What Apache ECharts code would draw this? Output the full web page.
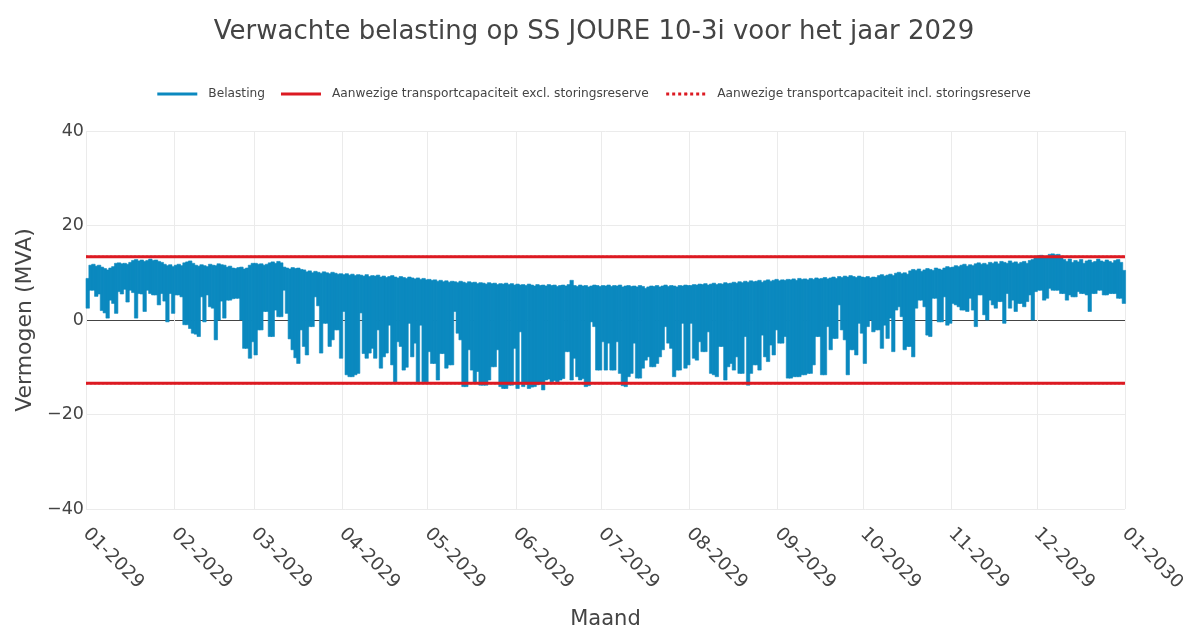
<!DOCTYPE html>
<html><head><meta charset="utf-8">
<script src="https://cdn.jsdelivr.net/npm/echarts@6/dist/echarts.min.js"></script>
<style>html,body{margin:0;padding:0;background:#fff;overflow:hidden}#c{width:1188px;height:630px}</style>
</head><body><div id="c"></div>
<script>
const YEAR = 2029;
const titleText = 'Verwachte belasting op SS JOURE 10-3i voor het jaar 2029';
const seriesNames = ['Belasting', 'Aanwezige transportcapaciteit excl. storingsreserve', 'Aanwezige transportcapaciteit incl. storingsreserve'];
const yTicks = [-40, -20, 0, 20, 40];

// Daily maximum load (MVA), Jan..Dec
const dailyMax = [
  // Jan
  8.8, 11.6, 11.8, 11.4, 11.6, 11.2, 10.9, 10.6, 11.0, 11.3, 12.0, 12.1, 11.9, 12.0, 11.8, 12.2, 12.6, 12.8, 12.5, 12.7, 12.4, 12.6, 12.9, 12.6, 12.7, 12.4, 12.2, 11.8, 11.5, 11.7, 11.3,
  // Feb
  11.6, 11.8, 11.5, 12.1, 12.3, 12.5, 12.0, 11.6, 11.4, 11.7, 11.5, 11.3, 11.8, 11.6, 11.5, 11.9, 11.7, 11.6, 11.2, 11.4, 11.0, 10.9, 11.1, 11.2, 10.8, 11.0, 11.6, 12.0,
  // Mar
  12.0, 11.8, 11.9, 11.6, 11.8, 12.1, 12.3, 12.0, 12.4, 12.1, 11.2, 11.0, 10.8, 11.1, 10.9, 11.0, 10.7, 10.6, 10.2, 10.4, 10.0, 10.3, 10.1, 9.9, 10.2, 10.0, 9.8, 10.1, 9.9, 9.7, 9.8,
  // Apr
  9.6, 9.8, 9.5, 9.7, 9.4, 9.6, 9.5, 9.3, 9.6, 9.2, 9.4, 9.3, 9.5, 9.1, 9.3, 9.0, 9.2, 9.4, 9.1, 8.9, 9.2, 9.0, 8.8, 9.1, 8.9, 8.7, 8.9, 8.6, 8.8, 8.5,
  // May
  8.6, 8.4, 8.5, 8.2, 8.4, 8.1, 8.3, 8.0, 8.2, 8.1, 7.9, 8.2, 8.0, 7.8, 8.1, 7.9, 8.0, 7.7, 7.9, 7.8, 7.6, 7.9, 7.7, 7.8, 7.5, 7.7, 7.6, 7.8, 7.5, 7.7, 7.4,
  // Jun
  7.6, 7.4, 7.5, 7.3, 7.6, 7.4, 7.2, 7.5, 7.3, 7.4, 7.2, 7.5, 7.3, 7.4, 7.1, 7.3, 7.4, 7.2, 7.5, 8.4, 7.3, 7.1, 7.4, 7.2, 7.3, 7.0, 7.2, 7.4, 7.3, 7.1,
  // Jul
  7.3, 7.2, 7.4, 7.1, 7.3, 7.2, 7.4, 7.0, 7.2, 7.3, 7.1, 7.2, 7.0, 7.3, 7.1, 6.7, 7.0, 7.2, 7.1, 7.3, 7.0, 7.2, 7.4, 7.1, 7.3, 7.2, 7.0, 7.3, 7.2, 7.4, 7.3,
  // Aug
  7.3, 7.5, 7.4, 7.6, 7.5, 7.7, 7.4, 7.6, 7.8, 7.5, 7.7, 7.6, 7.9, 7.7, 7.8, 8.0, 7.8, 8.1, 7.9, 8.2, 8.0, 8.3, 8.1, 8.2, 8.4, 8.0, 8.3, 8.5, 8.2, 8.4, 8.6,
  // Sep
  8.3, 8.5, 8.4, 8.6, 8.5, 8.7, 8.4, 8.8, 8.6, 8.7, 8.5, 8.8, 8.6, 8.9, 8.7, 8.8, 9.0, 8.7, 8.9, 9.1, 8.8, 9.2, 9.0, 9.3, 9.1, 9.4, 9.2, 9.0, 9.3, 9.1,
  // Oct
  9.0, 9.2, 8.9, 9.1, 9.0, 9.4, 9.6, 9.3, 9.5, 9.7, 9.4, 9.9, 10.1, 9.8, 10.0, 9.7, 10.4, 10.7, 10.5, 10.8, 10.3, 10.6, 10.9, 10.7, 10.5, 11.0, 10.8, 10.6, 11.0, 11.3, 11.1,
  // Nov
  11.2, 11.5, 11.3, 11.6, 11.8, 11.4, 11.7, 11.5, 11.9, 12.1, 11.8, 12.0, 11.7, 12.2, 12.0, 12.3, 11.9, 12.4, 12.2, 12.0, 12.5, 12.1, 12.3, 11.9, 12.2, 12.4, 12.0, 12.6, 12.8, 13.4,
  // Dec
  13.6, 13.7, 13.5, 13.4, 13.9, 14.0, 13.8, 13.9, 13.5, 12.8, 12.4, 12.9, 12.2, 12.6, 12.3, 12.8, 12.0, 12.5, 12.7, 12.2, 12.4, 12.9, 12.5, 12.3, 12.7, 12.4, 12.1, 12.6, 12.8, 12.2, 10.5
];

// Daily minimum load (MVA), Jan..Dec
const dailyMin = [
  // Jan
  2.5, 6.3, 6.3, 5.0, 5.5, 2.0, 1.5, 0.4, 4.2, 3.5, 1.4, 6.0, 5.5, 6.5, 3.8, 6.3, 5.8, 0.4, 5.6, 5.5, 1.8, 6.3, 5.6, 5.3, 5.3, 3.2, 5.6, 4.0, -0.4, 5.6, 1.4,
  // Feb
  5.3, 5.3, 4.9, -1.0, -1.0, -1.8, -2.8, -3.0, -3.5, 4.9, -0.4, 5.3, 2.8, 2.5, -4.2, 0.0, 4.0, 0.4, 4.2, 4.2, 4.5, 4.6, 4.6, 0.0, -6.0, -6.0, -8.1, -4.6,
  // Mar
  -7.4, -2.1, -2.1, 1.8, 1.8, -3.5, -3.5, 2.1, 0.7, 0.7, 6.3, 1.4, -4.0, -6.3, -8.0, -9.2, -2.1, -5.6, -7.4, -1.4, -1.4, 4.9, 3.0, -7.0, -0.7, -0.7, -5.6, -4.2, -2.1, -2.1, -8.1,
  // Apr
  1.8, -11.6, -12.0, -12.0, -11.6, -11.3, 1.5, -7.1, -8.1, -7.0, -6.0, -8.1, -2.1, -10.2, -7.8, -7.0, -1.1, -9.5, -13.1, -4.6, -5.6, -10.6, -10.0, -0.7, -7.8, -4.9, -13.1, -1.1, -13.1, -13.1,
  // May
  -6.7, -9.2, -9.2, -12.7, -7.1, -7.1, -10.2, -9.5, -9.5, 1.8, -2.8, -4.2, -14.1, -14.1, -6.3, -10.6, -13.4, -10.9, -13.8, -13.8, -13.8, -12.7, -9.9, -9.9, -6.3, -14.1, -14.5, -14.5, -13.8, -13.8, -6.0,
  // Jun
  -14.5, -2.5, -14.1, -13.6, -14.5, -14.2, -14.1, -13.7, -13.4, -14.8, -12.7, -12.5, -13.1, -12.8, -13.1, -12.7, -12.4, -6.7, -6.7, -12.7, -8.1, -12.0, -12.7, -12.4, -14.1, -13.9, -0.4, -1.4, -10.6, -10.6,
  // Jul
  -4.6, -10.6, -4.9, -10.6, -10.6, -4.6, -11.3, -13.9, -14.1, -12.0, -11.3, -4.9, -12.3, -12.3, -10.2, -8.5, -7.8, -9.9, -9.9, -9.2, -7.8, -6.3, -1.4, -4.9, -6.0, -12.0, -10.6, -10.6, -0.7, -10.2, -9.5,
  // Aug
  -0.7, -8.1, -8.5, -4.6, -6.7, -6.7, -2.5, -11.3, -11.6, -12.0, -5.6, -5.6, -12.7, -9.9, -9.2, -10.6, -7.8, -11.3, -11.3, -3.5, -13.8, -11.3, -9.5, -9.5, -10.6, -3.2, -7.8, -8.8, -5.3, -7.4, -2.1,
  // Sep
  -4.9, -4.9, -3.5, -12.3, -12.3, -12.0, -12.0, -12.0, -11.6, -11.6, -11.3, -11.3, -9.5, -3.5, -3.5, -11.6, -11.6, -1.4, -6.3, -3.9, -3.9, 3.2, -2.1, -4.2, -11.6, -6.3, -6.3, -7.4, -0.7, -2.8,
  // Oct
  -9.2, -1.4, 0.0, -2.5, -2.1, -2.1, -6.0, -1.1, -3.9, 0.4, -6.7, 2.1, 2.8, 0.7, -6.3, -5.6, -5.6, -7.8, 2.5, 4.2, 4.2, 2.8, -3.2, -3.5, 4.6, 4.6, -0.4, -0.4, 4.9, -1.1, -0.7,
  // Nov
  3.5, 3.2, 2.8, 2.1, 2.1, 1.8, 4.6, 2.1, -1.4, 5.3, 5.3, 1.1, 0.0, 4.2, 3.2, 2.5, 3.9, 3.9, -0.7, 5.6, 2.5, 4.2, 1.8, 3.5, 3.5, 2.8, 3.9, 5.3, 0.0, 6.0,
  // Dec
  6.3, 6.3, 4.2, 4.6, 6.7, 6.3, 6.3, 6.3, 5.6, 5.6, 4.2, 5.3, 4.9, 4.9, 6.0, 5.6, 5.6, 5.3, 1.8, 5.6, 5.6, 6.3, 6.3, 5.3, 5.3, 5.6, 5.6, 5.6, 4.6, 4.6, 3.5
];

// Transport capacity (MVA), symmetric
const capacityExcl = 13.4;
const capacityIncl = 13.4;

const BLUE = '#0b89bf';
const RED = '#dc1a22';
const TXT = '#444';
const FONT = 'DejaVu Sans';
const DAY = 86400000;
const tStart = new Date(YEAR, 0, 1).getTime();
const tEnd = new Date(YEAR + 1, 0, 1).getTime();

const rangeData = dailyMax.map((mx, i) => [new Date(YEAR, 0, 1 + i).getTime(), dailyMin[i], mx]);

function capLine(v) { return [[tStart, v], [tEnd, v]]; }

const chart = echarts.init(document.getElementById('c'), null, { renderer: 'canvas', width: 1188, height: 630 });
chart.setOption({
  animation: false,
  backgroundColor: '#fff',
  textStyle: { fontFamily: FONT },
  title: {
    text: titleText, left: 'center', top: 14,
    textStyle: { fontFamily: FONT, fontSize: 26, fontWeight: 'normal', color: TXT }
  },
  legend: {
    top: 83, left: 'center', itemWidth: 40, itemHeight: 3, itemGap: 16,
    textStyle: { fontFamily: FONT, fontSize: 12.2, color: TXT, padding: [0, 0, 0, 6] },
    data: [
      { name: seriesNames[0], icon: 'rect', itemStyle: { color: BLUE } },
      { name: seriesNames[1], icon: 'rect', itemStyle: { color: RED } },
      { name: seriesNames[2], lineStyle: { width: 3, type: 'dotted', color: RED } }
    ]
  },
  grid: { left: 86, right: 63, top: 131, bottom: 121, containLabel: false, outerBoundsMode: 'none' },
  xAxis: {
    type: 'time', min: tStart, max: tEnd, splitNumber: 12,
    axisLine: { show: false }, axisTick: { show: false },
    splitLine: { show: true, lineStyle: { color: '#ebebeb', width: 1 } },
    axisLabel: { formatter: '{MM}-{yyyy}', rotate: -45, fontSize: 18.5, color: TXT, fontFamily: FONT, margin: 22, hideOverlap: false, showMinLabel: true, showMaxLabel: true },
    name: 'Maand', nameLocation: 'middle', nameGap: 100,
    nameTextStyle: { fontSize: 21, color: TXT, fontFamily: FONT }
  },
  yAxis: {
    type: 'value', min: yTicks[0], max: yTicks[yTicks.length - 1], interval: 20,
    axisLine: { show: false }, axisTick: { show: false },
    splitLine: { show: true, lineStyle: { color: ['#ebebeb', '#ebebeb', '#444', '#ebebeb', '#ebebeb'], width: 1 } },
    axisLabel: { fontSize: 17.5, color: TXT, fontFamily: FONT, margin: 2, formatter: v => String(v).replace('-', '\u2212') },
    name: 'Vermogen (MVA)', nameLocation: 'middle', nameGap: 45,
    nameTextStyle: { fontSize: 22, color: TXT, fontFamily: FONT }
  },
  series: [
    {
      name: seriesNames[1], type: 'line', z: 10, symbol: 'none', silent: true,
      lineStyle: { color: RED, width: 3, type: 'solid' }, itemStyle: { color: RED },
      data: capLine(capacityExcl)
    },
    {
      name: seriesNames[1], type: 'line', z: 10, symbol: 'none', silent: true,
      lineStyle: { color: RED, width: 3, type: 'solid' }, itemStyle: { color: RED },
      data: capLine(-capacityExcl)
    },
    {
      name: seriesNames[0], type: 'custom', z: 3,
      itemStyle: { color: BLUE },
      encode: { x: 0, y: [1, 2] },
      data: rangeData,
      renderItem: function (params, api) {
        const t = api.value(0), lo = api.value(1), hi = api.value(2);
        const p1 = api.coord([t, hi]);
        const p2 = api.coord([t + DAY, lo]);
        return {
          type: 'rect',
          shape: { x: p1[0], y: p1[1], width: p2[0] - p1[0] + 0.6, height: p2[1] - p1[1] },
          style: { fill: BLUE, stroke: BLUE, lineWidth: 0.6 }
        };
      }
    },
    {
      name: seriesNames[2], type: 'line', z: 1, symbol: 'none', silent: true,
      lineStyle: { color: RED, width: 2, type: 'dotted' }, itemStyle: { color: RED },
      data: capLine(capacityIncl)
    },
    {
      name: seriesNames[2], type: 'line', z: 1, symbol: 'none', silent: true,
      lineStyle: { color: RED, width: 2, type: 'dotted' }, itemStyle: { color: RED },
      data: capLine(-capacityIncl)
    }
  ]
});
</script>
</body></html>
